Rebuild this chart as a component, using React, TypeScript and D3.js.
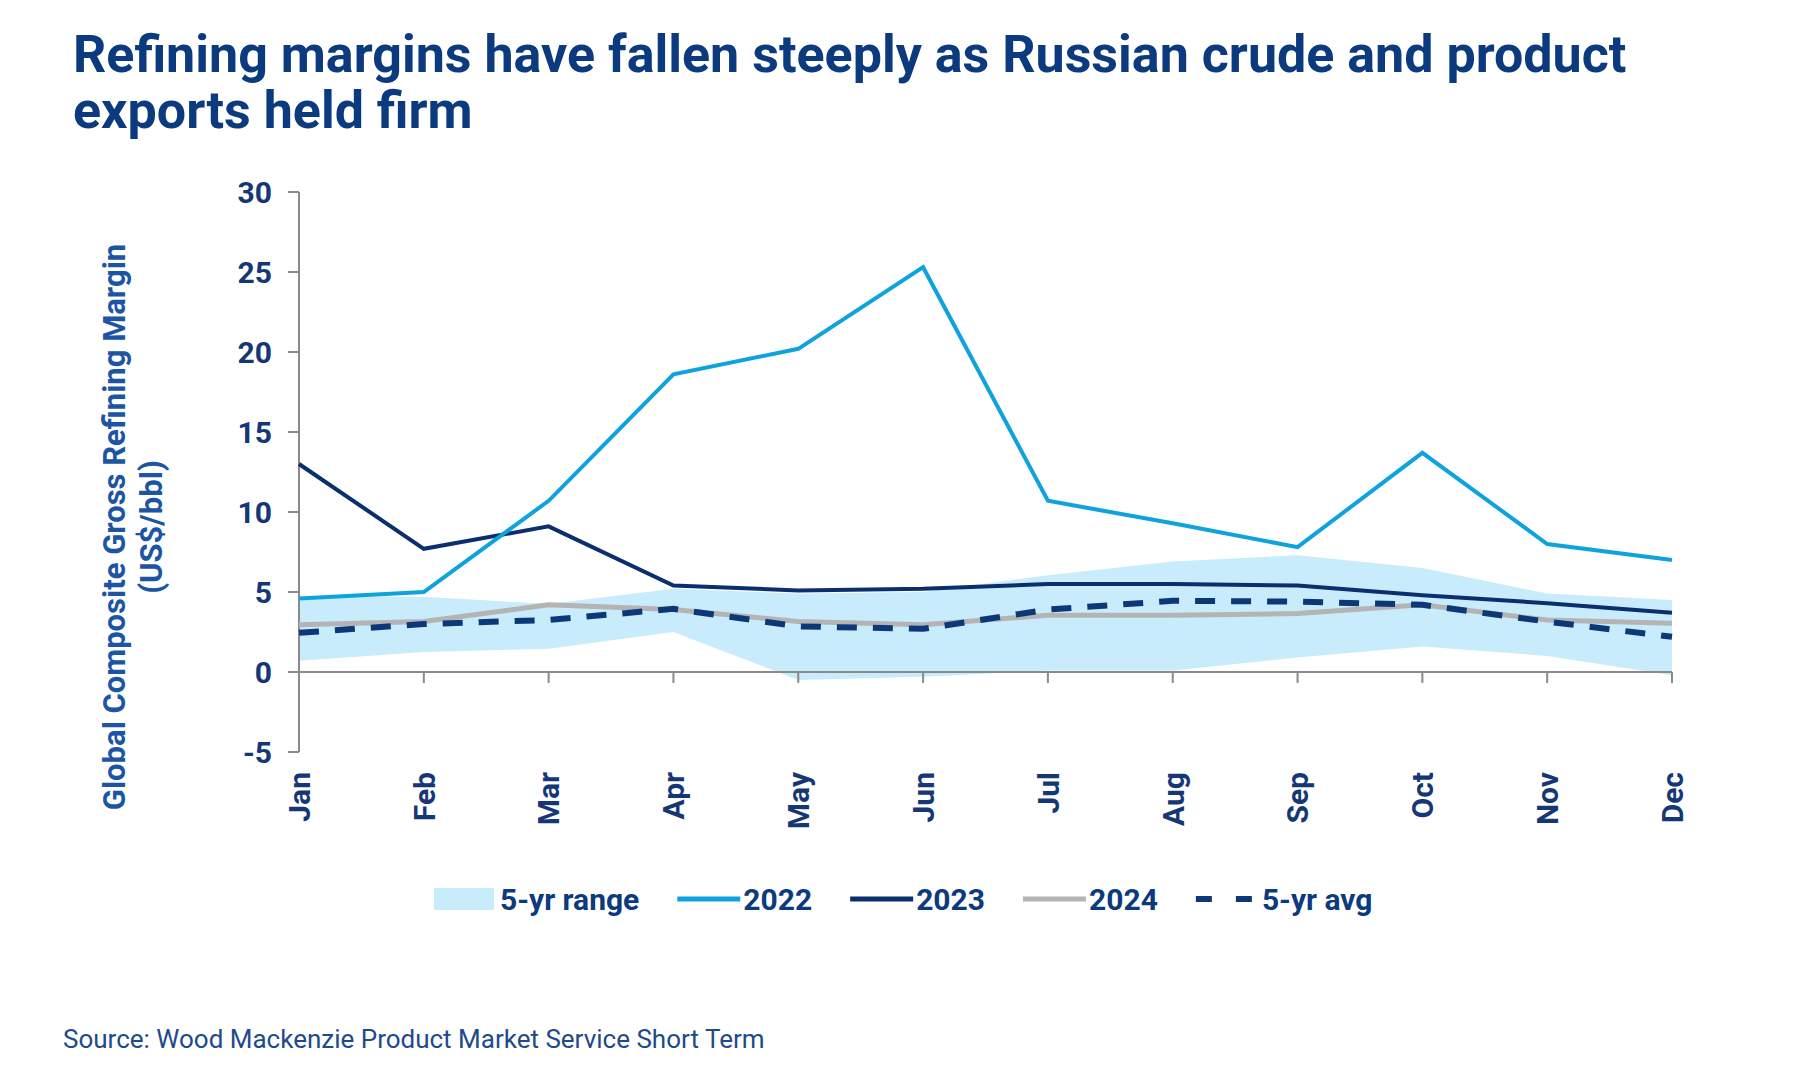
import React, { useEffect, useRef } from 'react';
import * as d3 from 'd3';

const months = ['Jan', 'Feb', 'Mar', 'Apr', 'May', 'Jun', 'Jul', 'Aug', 'Sep', 'Oct', 'Nov', 'Dec'];
const yTicks = [-5, 0, 5, 10, 15, 20, 25, 30];

const series2022 = [4.6, 5.0, 10.7, 18.6, 20.2, 25.3, 10.7, 9.3, 7.8, 13.7, 8.0, 7.0];
const series2023 = [13.0, 7.7, 9.1, 5.4, 5.1, 5.2, 5.5, 5.5, 5.4, 4.8, 4.3, 3.7];
const series2024 = [2.95, 3.15, 4.2, 3.9, 3.15, 2.95, 3.55, 3.55, 3.65, 4.2, 3.25, 3.05];
const avg5yr = [2.45, 3.0, 3.25, 3.95, 2.85, 2.7, 3.9, 4.45, 4.4, 4.2, 3.15, 2.2];
const rangeHigh = [4.7, 4.7, 4.25, 5.2, 4.9, 5.0, 6.05, 6.9, 7.3, 6.5, 4.9, 4.5];
const rangeLow = [0.7, 1.25, 1.45, 2.5, -0.5, -0.3, 0.1, 0.1, 0.9, 1.6, 1.0, -0.2];

const NAVY = '#0c3a7e';
const TICK_NAVY = '#163776';
const AXIS_BLUE = '#1d55a5';
const C2022 = '#0fa3dd';
const C2023 = '#0b2e6e';
const C2024 = '#b4b4b4';
const CAVG = '#0d3878';
const CRANGE = '#c8ecfb';

const App: React.FC = () => {
  const svgRef = useRef<SVGSVGElement>(null);

  useEffect(() => {
    document.body.style.margin = '0';
    if (!svgRef.current) return;
    const svg = d3.select(svgRef.current);
    svg.selectAll('*').remove();

    const x = d3.scalePoint<string>().domain(months).range([299, 1672]);
    const y = d3.scaleLinear().domain([-5, 30]).range([752, 192]);

    // title
    const title = svg.append('g')
      .attr('font-family', 'Roboto, sans-serif')
      .attr('font-weight', 700)
      .attr('font-size', 52)
      .attr('fill', NAVY);
    title.append('text').attr('x', 73).attr('y', 72)
      .text('Refining margins have fallen steeply as Russian crude and product');
    title.append('text').attr('x', 73).attr('y', 128).text('exports held firm');

    // 5-yr range band
    const idx = d3.range(months.length);
    const band = d3.area<number>()
      .x(i => x(months[i])!)
      .y0(i => y(rangeLow[i]))
      .y1(i => y(rangeHigh[i]));
    svg.append('path').datum(idx).attr('d', band).attr('fill', CRANGE);

    // axes
    const axisColor = '#8a8a8a';
    svg.append('line')
      .attr('x1', 299).attr('x2', 1672)
      .attr('y1', y(0)).attr('y2', y(0))
      .attr('stroke', axisColor).attr('stroke-width', 2);
    svg.selectAll('.xtick').data(months).join('line')
      .attr('x1', d => x(d)!).attr('x2', d => x(d)!)
      .attr('y1', y(0)).attr('y2', y(0) + 11)
      .attr('stroke', axisColor).attr('stroke-width', 2);
    svg.append('line')
      .attr('x1', 299).attr('x2', 299)
      .attr('y1', y(30)).attr('y2', y(-5))
      .attr('stroke', axisColor).attr('stroke-width', 2);
    svg.selectAll('.ytick').data(yTicks).join('line')
      .attr('x1', 288).attr('x2', 299)
      .attr('y1', d => y(d)).attr('y2', d => y(d))
      .attr('stroke', axisColor).attr('stroke-width', 2);

    svg.selectAll('.ylabel').data(yTicks).join('text')
      .attr('x', 272).attr('y', d => y(d))
      .attr('dy', '0.36em')
      .attr('text-anchor', 'end')
      .attr('font-family', 'Roboto, sans-serif')
      .attr('font-weight', 700)
      .attr('font-size', 30)
      .attr('fill', TICK_NAVY)
      .text(d => d);

    svg.selectAll('.xlabel').data(months).join('text')
      .attr('transform', d => `translate(${x(d)},772) rotate(-90)`)
      .attr('dy', '0.36em')
      .attr('text-anchor', 'end')
      .attr('font-family', 'Roboto, sans-serif')
      .attr('font-weight', 700)
      .attr('font-size', 30)
      .attr('fill', TICK_NAVY)
      .text(d => d);

    // y axis title
    const yt = svg.append('g')
      .attr('font-family', 'Roboto, sans-serif')
      .attr('font-weight', 700)
      .attr('font-size', 31)
      .attr('fill', AXIS_BLUE)
      .attr('text-anchor', 'middle');
    yt.append('text').attr('transform', 'translate(125,527) rotate(-90)')
      .text('Global Composite Gross Refining Margin');
    yt.append('text').attr('transform', 'translate(162,527) rotate(-90)')
      .text('(US$/bbl)');

    // lines
    const line = (vals: number[]) => d3.line<number>()
      .x(i => x(months[i])!)
      .y(i => y(vals[i]))(idx);

    svg.append('path').attr('d', line(series2024)).attr('fill', 'none')
      .attr('stroke', C2024).attr('stroke-width', 5);
    svg.append('path').attr('d', line(avg5yr)).attr('fill', 'none')
      .attr('stroke', CAVG).attr('stroke-width', 6)
      .attr('stroke-dasharray', '20 16');
    svg.append('path').attr('d', line(series2023)).attr('fill', 'none')
      .attr('stroke', C2023).attr('stroke-width', 4);
    svg.append('path').attr('d', line(series2022)).attr('fill', 'none')
      .attr('stroke', C2022).attr('stroke-width', 4);

    // legend
    const legendItems = [
      { label: '5-yr range', kind: 'area', color: CRANGE },
      { label: '2022', kind: 'line', color: C2022 },
      { label: '2023', kind: 'line', color: C2023 },
      { label: '2024', kind: 'line', color: C2024 },
      { label: '5-yr avg', kind: 'dash', color: CAVG },
    ];
    const ly = 899;
    let lx = 434;
    const lg = svg.append('g');
    legendItems.forEach(item => {
      if (item.kind === 'area') {
        lg.append('rect').attr('x', lx).attr('y', ly - 11).attr('width', 60).attr('height', 22)
          .attr('fill', item.color);
      } else {
        lg.append('line').attr('x1', lx).attr('x2', lx + 63).attr('y1', ly).attr('y2', ly)
          .attr('stroke', item.color)
          .attr('stroke-width', item.kind === 'dash' ? 6 : 5)
          .attr('stroke-dasharray', item.kind === 'dash' ? '16 24' : null);
      }
      const t = lg.append('text')
        .attr('x', lx + 66).attr('y', ly).attr('dy', '0.36em')
        .attr('font-family', 'Roboto, sans-serif')
        .attr('font-weight', 700)
        .attr('font-size', 30)
        .attr('fill', NAVY)
        .text(item.label);
      const w = (t.node() as SVGTextElement).getComputedTextLength();
      lx = lx + 66 + w + 38;
    });

    // source
    svg.append('text')
      .attr('x', 63).attr('y', 1048)
      .attr('font-family', 'Roboto, sans-serif')
      .attr('font-size', 26)
      .attr('fill', '#1e4a8c')
      .text('Source: Wood Mackenzie Product Market Service Short Term');
  }, []);

  return (
    <svg ref={svgRef} width={1800} height={1080} viewBox="0 0 1800 1080"
      style={{ display: 'block', background: '#fff' }} />
  );
};

export default App;
